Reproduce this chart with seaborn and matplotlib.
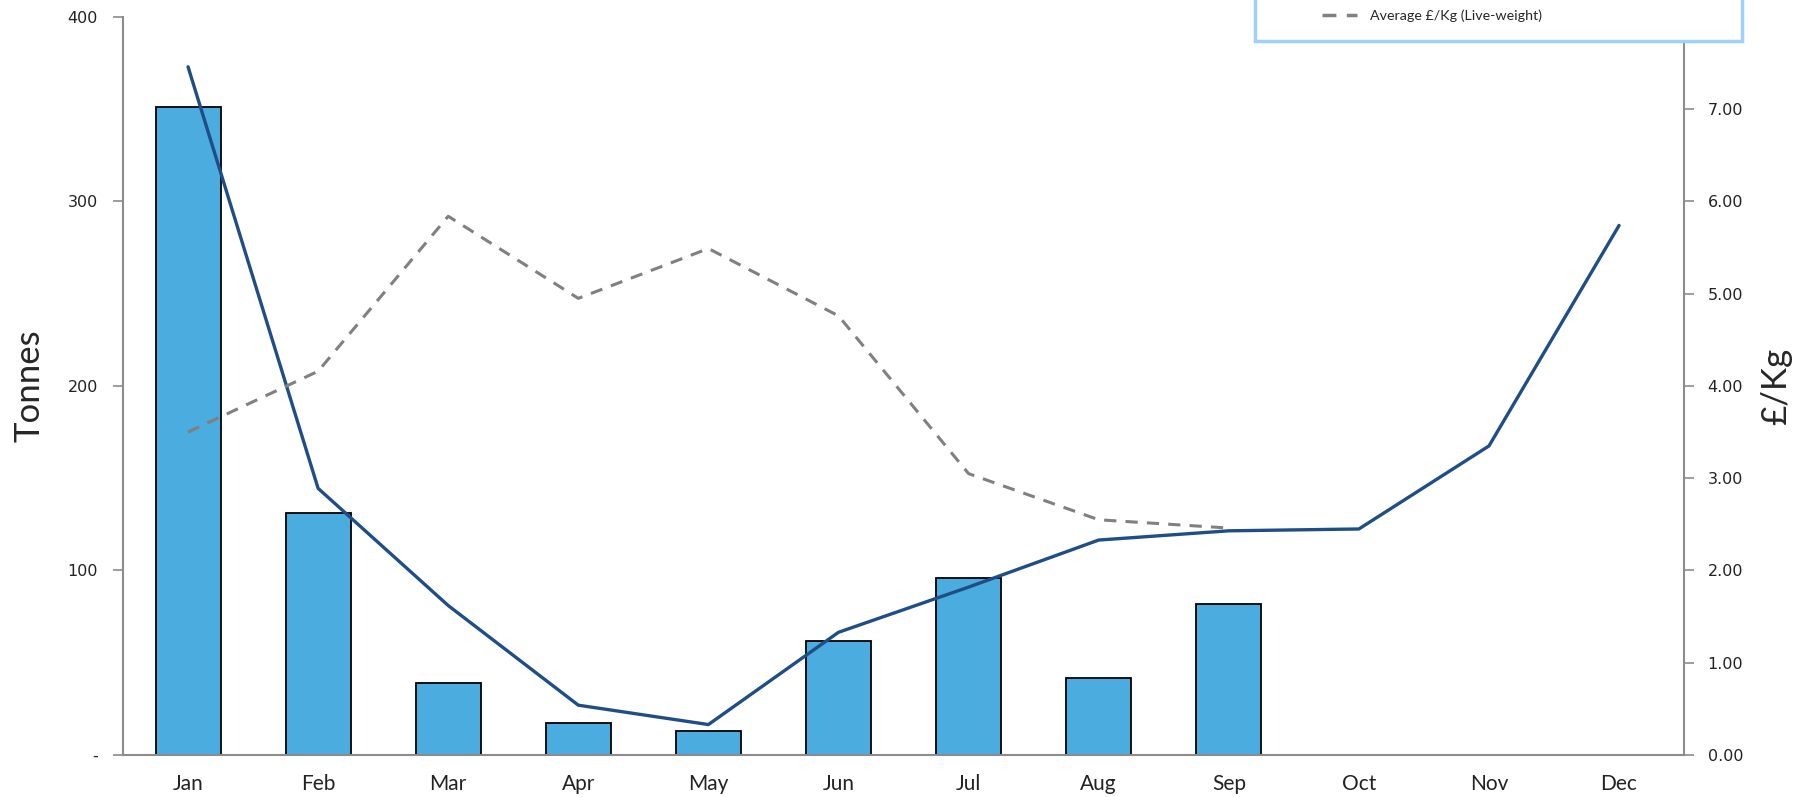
import matplotlib.pyplot as plt
import numpy as np
import pandas as pd
import seaborn as sns
from matplotlib.lines import Line2D
from matplotlib.patches import Rectangle

# Data
months = ['Jan', 'Feb', 'Mar', 'Apr', 'May', 'Jun',
          'Jul', 'Aug', 'Sep', 'Oct', 'Nov', 'Dec']
tonnes = [351, 131, 39, 17.5, 13, 62, 96, 41.5, 82, np.nan, np.nan, np.nan]
prev_tonnes = [373, 144.5, 81, 27, 16.5, 66.5, 91, 116.5, 121.5, 122.5, 167.5, 287]
avg_price = [3.50, 4.16, 5.84, 4.95, 5.49, 4.76, 3.05, 2.55, 2.46,
             np.nan, np.nan, np.nan]
left_ticks = [0, 100, 200, 300, 400]
left_labels = ['-', '100', '200', '300', '400']
right_ticks = [0, 1, 2, 3, 4, 5, 6, 7]

df = pd.DataFrame({'month': months, 'tonnes': tonnes,
                   'prev': prev_tonnes, 'price': avg_price})
df['pos'] = np.arange(len(months))

sns.set_style('white')
plt.rcParams['font.family'] = ['Lato', 'DejaVu Sans']

fig = plt.figure(figsize=(18.06, 7.97), dpi=100)
ax = fig.add_axes([0.0681, 0.0527, 0.8644, 0.926])
ax2 = ax.twinx()

grey = '#8c8c8c'
dash = (0, (4, 3))

# Bars
sns.barplot(data=df, x='month', y='tonnes', order=months, ax=ax,
            color='#4BACDF', saturation=1, width=0.5,
            edgecolor='black', linewidth=1.3)

# Solid line (tonnes) and dashed price line
sns.lineplot(data=df, x='pos', y='prev', ax=ax, color='#1F4E86',
             linewidth=2.4, zorder=5)
sns.lineplot(data=df, x='pos', y='price', ax=ax2, color='#808080',
             linewidth=2.2, linestyle=dash, zorder=5)

ax.set_xlim(-0.5, 11.5)
ax.set_ylim(0, 400)
ax2.set_ylim(0, 8)

ax.set_yticks(left_ticks)
ax.set_yticklabels(left_labels, family='DejaVu Sans', fontsize=11.5,
                   color='#222222')
ax2.set_yticks(right_ticks)
ax2.set_yticklabels([f'{v:.2f}' for v in right_ticks], family='DejaVu Sans',
                    fontsize=11.5, color='#222222')
ax.set_xticks(range(len(months)))
ax.set_xticklabels(months, fontsize=15, color='#222222')

ax.set_xlabel('')
ax.set_ylabel('Tonnes', fontsize=25, labelpad=16)
ax2.set_ylabel('£/Kg', fontsize=25, labelpad=12)

for a in (ax, ax2):
    for s in a.spines.values():
        s.set_visible(False)
ax.spines['left'].set_visible(True)
ax.spines['bottom'].set_visible(True)
ax2.spines['right'].set_visible(True)
for s in (ax.spines['left'], ax.spines['bottom'], ax2.spines['right']):
    s.set_color(grey)
    s.set_linewidth(1.5)

ax.tick_params(axis='y', which='major', left=True, length=7, width=1.2,
               color=grey, pad=11)
ax.tick_params(axis='x', bottom=False, pad=10)
ax2.tick_params(axis='y', right=True, length=7, width=1.2, color=grey, pad=10)

# Legend box (partly cut off by the top edge)
box = Rectangle((1255 / 1806, 1 - 41 / 797), 487 / 1806, 0.2,
                transform=fig.transFigure, facecolor='white',
                edgecolor='#9fd0ff', linewidth=2.5, zorder=10)
fig.add_artist(box)
handle = Line2D([], [], color='#808080', linewidth=2.5, linestyle=dash)
leg = fig.legend([handle], ['Average £/Kg (Live-weight)'],
                 loc='center left', bbox_to_anchor=(1322 / 1806, 1 - 16 / 797),
                 fontsize=10.3, frameon=False, borderpad=0,
                 handlelength=2.45, handletextpad=0.9, borderaxespad=0)
leg.set_zorder(11)

fig.savefig('out.png', dpi=100)
